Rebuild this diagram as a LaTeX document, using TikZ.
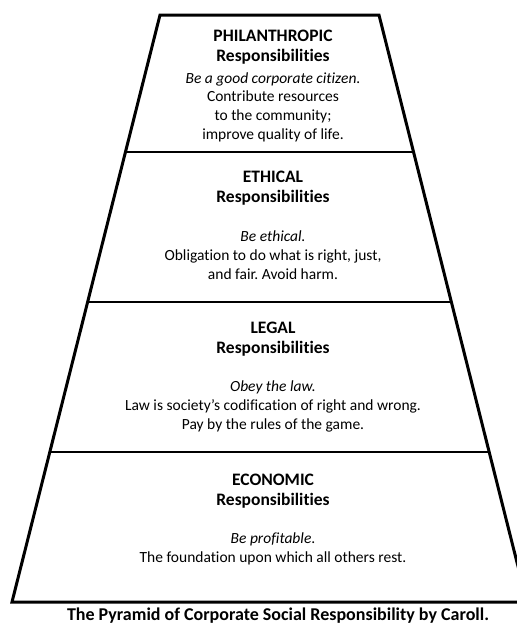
\documentclass[tikz,border=0pt]{standalone}
\usepackage{fontspec}
\setmainfont{Carlito}[Ligatures={NoCommon}]
\frenchspacing
\usetikzlibrary{calc}
\tikzset{
  edge/.style={line width=3pt, line join=miter},
  divider/.style={line width=2.8pt},
  titletext/.style={align=center, inner sep=0pt, font=\fontsize{17.5}{20}\selectfont\bfseries},
  bodytext/.style={align=center, inner sep=0pt, font=\fontsize{15.5}{18.7}\selectfont},
  captiontext/.style={inner sep=0pt, font=\fontsize{18}{20}\selectfont\bfseries}
}
\begin{document}
\begin{tikzpicture}[x=1pt, y=-1pt]
\useasboundingbox (0,0) rectangle (517,625);
\clip (0,0) rectangle (517,625);
% pyramid corners
\coordinate (TL) at (160,15);
\coordinate (TR) at (379,15);
\coordinate (BR) at (527,602);
\coordinate (BL) at (12,602);
% divider end points
\coordinate (L1) at ($(TL)!0.2334!(BL)$);
\coordinate (R1) at ($(TR)!0.2334!(BR)$);
\coordinate (L2) at ($(TL)!0.4889!(BL)$);
\coordinate (R2) at ($(TR)!0.4889!(BR)$);
\coordinate (L3) at ($(TL)!0.7445!(BL)$);
\coordinate (R3) at ($(TR)!0.7445!(BR)$);
\draw[edge] (TL) -- (TR) -- (BR) -- (BL) -- cycle;
\draw[divider] (L1) -- (R1);
\draw[divider] (L2) -- (R2);
\draw[divider] (L3) -- (R3);
% texts
\node[titletext] (t1) at (273,47) {PHILANTHROPIC\\Responsibilities};
\node[bodytext] (b1) at (273,107) {\itshape Be a good corporate citizen.\\Contribute resources\\to the community;\\improve quality of life.};
\node[titletext] (t2) at (273,188) {ETHICAL\\Responsibilities};
\node[bodytext] (b2) at (273,255) {\itshape Be ethical.\\Obligation to do what is right, just,\\and fair. Avoid harm.};
\node[titletext] (t3) at (273,339.5) {LEGAL\\Responsibilities};
\node[bodytext] (b3) at (273,406.5) {\itshape Obey the law.\\Law is society’s codification of right and wrong.\\Pay by the rules of the game.};
\node[titletext] (t4) at (273,491) {ECONOMIC\\Responsibilities};
\node[bodytext] (b4) at (273,549) {\itshape Be profitable\upshape.\\The foundation upon which all others rest.};
\node[captiontext, anchor=base] (cap) at (278,620.5) {The Pyramid of Corporate Social Responsibility by Caroll.};
\end{tikzpicture}
\end{document}
